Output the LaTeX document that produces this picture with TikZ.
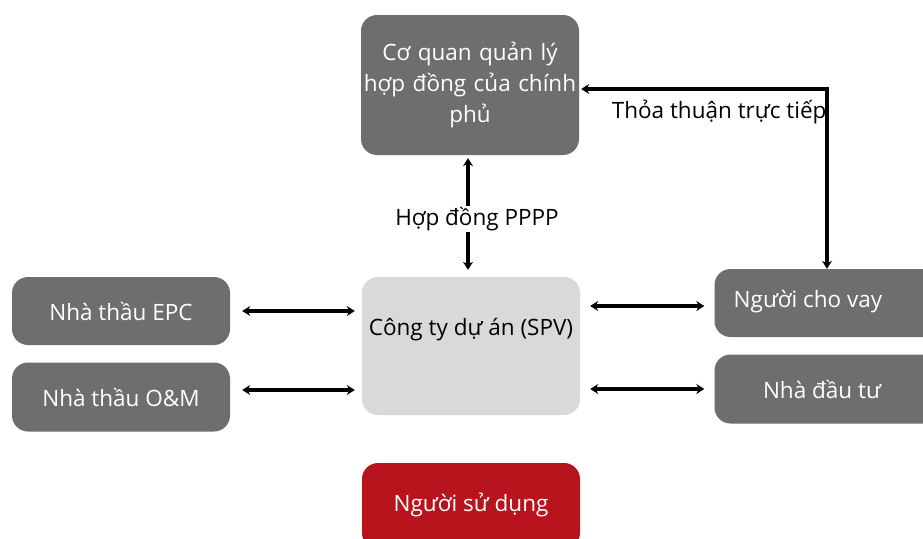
\documentclass[tikz,border=0pt]{standalone}
\usepackage{fontspec}
\setmainfont{Open Sans}
\usetikzlibrary{arrows.meta}
\definecolor{darkbox}{HTML}{6E6E6E}
\definecolor{lightbox}{HTML}{D9D9D9}
\definecolor{redbox}{HTML}{B8141E}
\tikzset{
  x=1pt,y=-1pt,
  box/.style={rounded corners=16pt, minimum width=218pt, align=center, inner sep=2pt},
  darkb/.style={box, fill=darkbox, text=white},
  dbl/.style={line width=3.4pt, {Stealth[length=8pt,width=10pt]}-{Stealth[length=8pt,width=10pt]}},
  lbl/.style={font=\fontsize{22.5}{27}\selectfont, text=black}
}
\begin{document}
\begin{tikzpicture}[font=\fontsize{22.5}{31}\selectfont]
\useasboundingbox (0,0) rectangle (923,538);
% boxes
\node[darkb, minimum height=140pt, text width=214pt] (gov) at (470,85) {Cơ quan quản lý\\hợp đồng của chính\\phủ};
\node[box, fill=lightbox, minimum height=138pt] (spv) at (471,346) {};
\node[lbl] (spvt) at (471,330) {Công ty dự án (SPV)};
\node[darkb, minimum height=68pt] (epc) at (121,311) {Nhà thầu EPC};
\node[darkb, minimum height=69pt] (om) at (121,397) {Nhà thầu O\&M};
\node[box, fill=darkbox, minimum width=225pt, minimum height=68pt] (lender) at (827,303) {};
\node[text=white] (lendert) at (808,302) {Người cho vay};
\node[box, fill=darkbox, minimum width=225pt, minimum height=69pt] (inv) at (827,389) {};
\node[text=white] (invt) at (822,389) {Nhà đầu tư};
\node[box, fill=redbox, text=white, minimum height=86pt] (user) at (471,506) {};
\node[text=white] (usert) at (471,505) {Người sử dụng};
% coordinates
\coordinate (vx) at (468,0);
\coordinate (dx) at (827,0);
\coordinate (dy) at (0,89);
% vertical contract arrow
\draw[dbl, shorten <=3pt, shorten >=7pt] (gov.south -| vx) -- (spv.north -| vx);
\node[lbl, fill=white, inner sep=1pt] (ppp) at (477,219) {Hợp đồng PPPP};
% direct agreement
\draw[dbl, shorten <=2pt, shorten >=0pt] (gov.east |- dy) -| (lender.north -| dx);
\node[lbl, anchor=east] (dir) at (830,112) {Thỏa thuận trực tiếp};
% left arrows
\draw[dbl, shorten <=12pt, shorten >=7pt] (epc.east) -- (spv.west |- epc.east);
\draw[dbl, shorten <=12pt, shorten >=7pt] (om.east |- 0,390) -- (spv.west |- 0,390);
% right arrows
\draw[dbl, shorten <=10pt, shorten >=10pt] (spv.east |- 0,306) -- (lender.west |- 0,306);
\draw[dbl, shorten <=10pt, shorten >=10pt] (spv.east |- 0,389) -- (inv.west |- 0,389);
\end{tikzpicture}
\end{document}
